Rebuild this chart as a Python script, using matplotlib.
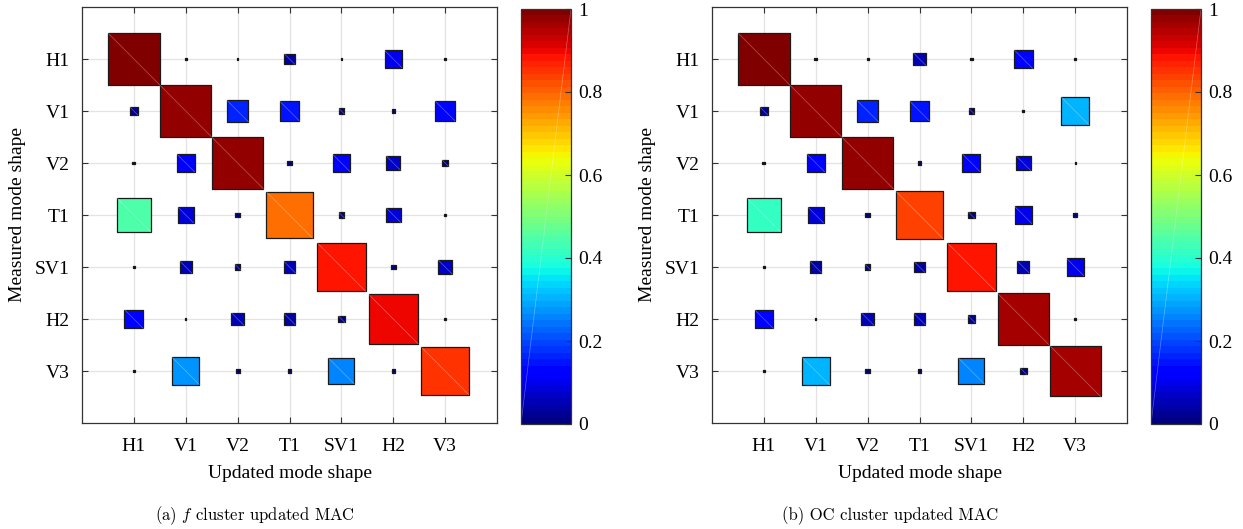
import numpy as np
import matplotlib
matplotlib.use("Agg")
import matplotlib.pyplot as plt
from matplotlib.patches import Rectangle
from matplotlib.collections import PatchCollection

plt.rcParams['font.family'] = ['Liberation Serif', 'DejaVu Serif']
plt.rcParams['mathtext.fontset'] = 'cm'

modes = ["H1", "V1", "V2", "T1", "SV1", "H2", "V3"]

# rows = measured mode shape, columns = updated mode shape
mac_f = [
    [0.99, 0.0015, 0.0007, 0.042, 0.001, 0.107, 0.0007],
    [0.024, 0.97, 0.17, 0.143, 0.012, 0.004, 0.138],
    [0.003, 0.115, 0.98, 0.006, 0.115, 0.072, 0.015],
    [0.44, 0.091, 0.009, 0.79, 0.012, 0.083, 0.0015],
    [0.0007, 0.056, 0.012, 0.05, 0.88, 0.009, 0.076],
    [0.133, 0.0007, 0.059, 0.045, 0.018, 0.905, 0.0015],
    [0.001, 0.27, 0.006, 0.004, 0.25, 0.004, 0.845],
]
mac_oc = [
    [0.99, 0.003, 0.0015, 0.062, 0.003, 0.129, 0.0015],
    [0.022, 0.97, 0.17, 0.143, 0.012, 0.0015, 0.30],
    [0.003, 0.115, 0.98, 0.004, 0.12, 0.083, 0.0004],
    [0.42, 0.09, 0.009, 0.835, 0.015, 0.107, 0.007],
    [0.0007, 0.045, 0.012, 0.04, 0.88, 0.05, 0.107],
    [0.129, 0.0004, 0.059, 0.05, 0.02, 0.965, 0.0015],
    [0.001, 0.297, 0.008, 0.004, 0.25, 0.016, 0.96],
]
captions = ["(a) $f$ cluster updated MAC", "(b) OC cluster updated MAC"]

W, H = 1243, 529
fig = plt.figure(figsize=(W / 100, H / 100), dpi=100)
cmap = plt.get_cmap('jet', 64)

panels = [
    # axes rect, colorbar rect, caption x (pixels)
    ((82, 7, 415, 416), (521, 9, 50, 415), 255),
    ((712, 7, 415, 416), (1151, 9, 50, 415), 890),
]


def px_rect(x, y, w, h):
    return [x / W, 1 - (y + h) / H, w / W, h / H]


for mac, caption, (arect, crect, cap_x) in zip([mac_f, mac_oc], captions, panels):
    ax = fig.add_axes(px_rect(*arect))
    mac = np.array(mac)
    n = len(modes)
    squares = []
    values = []
    for i in range(n):
        for j in range(n):
            v = mac[i, j]
            s = np.sqrt(v)
            squares.append(Rectangle((j + 1 - s / 2, i + 1 - s / 2), s, s))
            values.append(v)
    pc = PatchCollection(squares, cmap=cmap, edgecolor='#1a1a1a', linewidth=0.9, zorder=3)
    pc.set_array(np.array(values))
    pc.set_clim(0, 1)
    ax.add_collection(pc)
    # faint rendering seam across every square
    for i in range(n):
        for j in range(n):
            s = np.sqrt(mac[i, j])
            if s > 0.1:
                ax.plot([j + 1 - s / 2, j + 1 + s / 2], [i + 1 - s / 2, i + 1 + s / 2],
                        color='white', lw=0.5, alpha=0.35, zorder=4)

    ax.set_xlim(0, n + 1)
    ax.set_ylim(n + 1, 0)
    ax.set_xticks(range(1, n + 1))
    ax.set_yticks(range(1, n + 1))
    ax.set_xticklabels(modes, fontsize=14)
    ax.set_yticklabels(modes, fontsize=14)
    ax.grid(True, color='#e3e3e3', linewidth=0.9, zorder=0)
    ax.set_axisbelow(True)
    ax.tick_params(direction='in', length=4, width=0.8, color='#333333',
                   top=True, right=True, pad=9)
    ax.tick_params(axis='x', pad=11)
    for sp in ax.spines.values():
        sp.set_color('#333333')
        sp.set_linewidth(0.9)
    ax.set_xlabel("Updated mode shape", fontsize=14, labelpad=7)
    ax.set_ylabel("Measured mode shape", fontsize=14, labelpad=6)

    cax = fig.add_axes(px_rect(*crect))
    cb = fig.colorbar(pc, cax=cax)
    cb.set_ticks([0, 0.2, 0.4, 0.6, 0.8, 1])
    cb.set_ticklabels(["0", "0.2", "0.4", "0.6", "0.8", "1"])
    cb.ax.tick_params(direction='in', length=4, width=0.8, color='#333333',
                      labelsize=14, pad=5)
    cb.outline.set_edgecolor('#333333')
    cb.outline.set_linewidth(0.9)
    cax.plot([0, 1], [0, 1], transform=cax.transAxes, color='white', lw=0.5, alpha=0.35)

    fig.text(cap_x / W, 1 - 516 / H, caption, ha='center', va='center',
             fontsize=12, family='cmr10')

fig.savefig("out.png", dpi=100)
